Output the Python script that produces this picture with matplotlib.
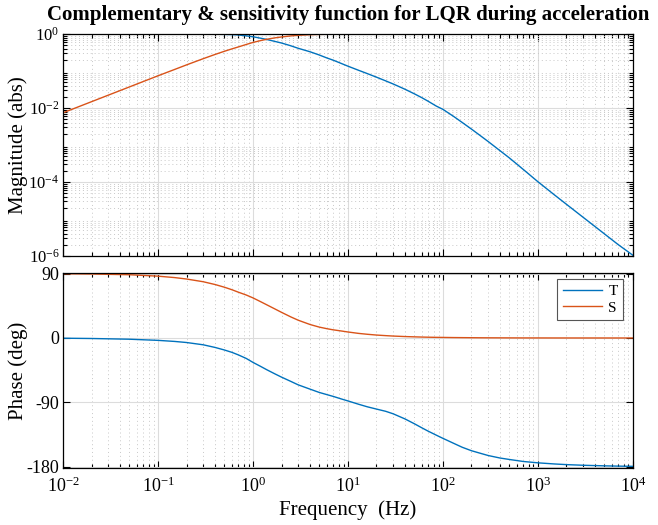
import numpy as np
import matplotlib
import matplotlib.pyplot as plt
from matplotlib.ticker import LogLocator, NullFormatter
matplotlib.use('Agg')

# values (frequency in Hz)
freq = [0.01, 0.02, 0.05, 0.1, 0.15, 0.2, 0.3, 0.4, 0.5, 0.6, 0.7, 0.85,
        1, 1.2, 1.4, 1.7, 2, 2.5, 3, 4, 5, 6, 7, 8.5, 10, 13, 16, 20, 25,
        30, 40, 50, 60, 70, 85, 100, 130, 160, 200, 250, 300, 400, 500,
        700, 1000, 1500, 2000, 3000, 5000, 7000, 10000]

T_mag = [1.0, 1.0, 1.0, 0.999, 0.998, 0.996, 0.99, 0.983, 0.973, 0.96,
         0.94, 0.89, 0.84, 0.77, 0.71, 0.63, 0.57, 0.48, 0.41, 0.33, 0.27,
         0.225, 0.196, 0.16, 0.135, 0.104, 0.085, 0.068, 0.054, 0.0445,
         0.032, 0.0242, 0.019, 0.0152, 0.0113, 0.0092, 5.9e-3, 4.05e-3,
         2.69e-3, 1.76e-3, 1.24e-3, 7.0e-4, 4.5e-4, 2.2e-4, 1.02e-4,
         4.45e-5, 2.5e-5, 1.11e-5, 4.0e-6, 2.04e-6, 1.05e-6]
S_mag = [0.0074, 0.0148, 0.037, 0.074, 0.110, 0.146, 0.215, 0.28, 0.34,
         0.395, 0.445, 0.52, 0.59, 0.66, 0.72, 0.785, 0.83, 0.885, 0.92,
         0.955, 0.972, 0.98, 0.986, 0.99, 0.993, 0.996, 0.997, 0.998, 0.999,
         0.999, 1.0, 1.0, 1.0, 1.0, 1.0, 1.0, 1.0, 1.0, 1.0, 1.0, 1.0, 1.0,
         1.0, 1.0, 1.0, 1.0, 1.0, 1.0, 1.0, 1.0, 1.0]

T_phase = [-0.3, -0.7, -1.7, -3.3, -4.8, -6.3, -9.5, -13.2, -16.7, -20,
           -23.5, -28.5, -34, -39.5, -44.3, -50, -54.6, -60.5, -65.4,
           -71.4, -76, -79, -81.5, -85, -87.8, -92.5, -96, -99.2, -102.3,
           -105.8, -113, -119.6, -125.3, -130, -135.5, -140, -147, -152.5,
           -157.3, -161, -164, -167.5, -169.5, -172.3, -174.2, -175.8,
           -176.7, -177.6, -178.4, -178.8, -179.1]
S_phase = [89.7, 89.3, 88.3, 86.3, 84.3, 82.3, 78.5, 74.6, 70.9, 67.4, 64,
           60, 56, 50.8, 46.3, 40.6, 35.8, 29.5, 24.8, 18.8, 15.2, 13, 11.4,
           9.8, 8.4, 6.4, 5.2, 4.1, 3.3, 2.7, 2.0, 1.6, 1.3, 1.1, 0.9, 0.8,
           0.6, 0.5, 0.4, 0.3, 0.25, 0.2, 0.15, 0.1, 0.08, 0.05, 0.04, 0.03,
           0.02, 0.01, 0.01]

blue = '#0072BD'
orange = '#D95319'

plt.rcParams['font.family'] = ['Liberation Serif', 'DejaVu Serif']
plt.rcParams['mathtext.fontset'] = 'custom'
plt.rcParams['mathtext.rm'] = 'Liberation Serif'
plt.rcParams['mathtext.it'] = 'Liberation Serif:italic'
plt.rcParams['axes.unicode_minus'] = False

fig = plt.figure(figsize=(6.58, 5.25), dpi=100)
ax1 = fig.add_axes([0.0957, 0.5124, 0.866, 0.4229])
ax2 = fig.add_axes([0.0957, 0.1086, 0.866, 0.3714])


def style_axis(ax):
    ax.set_xscale('log')
    ax.set_xlim(1e-2, 1e4)
    ax.tick_params(which='both', direction='in', top=True, right=True,
                   labelsize=13, width=0.8)
    ax.tick_params(axis='x', pad=6)
    ax.tick_params(axis='y', pad=2.5)
    ax.tick_params(which='major', length=5)
    ax.tick_params(which='minor', length=3)
    ax.xaxis.set_minor_locator(LogLocator(base=10, subs=np.arange(2, 10), numticks=20))
    ax.xaxis.set_minor_formatter(NullFormatter())
    ax.grid(True, which='major', color='#dcdcdc', linewidth=0.8, linestyle='-')
    ax.grid(True, which='minor', axis='x', color='#c8c8c8', linewidth=0.7, linestyle=(0, (1, 3)))
    for s in ax.spines.values():
        s.set_linewidth(0.9)


# magnitude
style_axis(ax1)
ax1.set_yscale('log')
ax1.plot(freq, T_mag, color=blue, linewidth=1.0)
ax1.plot(freq, S_mag, color=orange, linewidth=1.0)
ax1.set_ylim(1e-6, 1)
ax1.set_yticks([1e-6, 1e-4, 1e-2, 1e0])
ax1.yaxis.set_minor_locator(LogLocator(base=10, subs=np.arange(2, 10), numticks=20))
ax1.yaxis.set_minor_formatter(NullFormatter())
ax1.grid(True, which='minor', axis='y', color='#c8c8c8', linewidth=0.7, linestyle=(0, (1, 3)))
ax1.tick_params(axis='x', labelbottom=False)
ax1.tick_params(axis='y', labelsize=12)
ax1.set_ylabel('Magnitude (abs)', fontsize=15)
ax1.yaxis.set_label_coords(-0.062, 0.5)
ax1.set_title('Complementary & sensitivity function for LQR during acceleration',
              fontsize=15, fontweight='bold', pad=10)

# phase
style_axis(ax2)
ax2.plot(freq, T_phase, color=blue, linewidth=1.0, label='T')
ax2.plot(freq, S_phase, color=orange, linewidth=1.0, label='S')
ax2.set_ylim(-181.4, 90.7)
ax2.set_yticks([-180, -90, 0, 90])
ax2.set_xticks([1e-2, 1e-1, 1e0, 1e1, 1e2, 1e3, 1e4])
ax2.set_ylabel('Phase (deg)', fontsize=15)
ax2.yaxis.set_label_coords(-0.062, 0.5)
ax2.set_xlabel('Frequency  (Hz)', fontsize=15, labelpad=3)
leg = ax2.legend(loc='upper right', bbox_to_anchor=(0.9468, 0.4686),
                 bbox_transform=fig.transFigure, borderaxespad=0,
                 fontsize=11, fancybox=False, framealpha=1,
                 edgecolor='#555555', handlelength=2.6, handletextpad=0.4,
                 labelspacing=0.2, borderpad=0.35)
leg.get_frame().set_linewidth(0.8)

fig.savefig('out.png', dpi=100)
